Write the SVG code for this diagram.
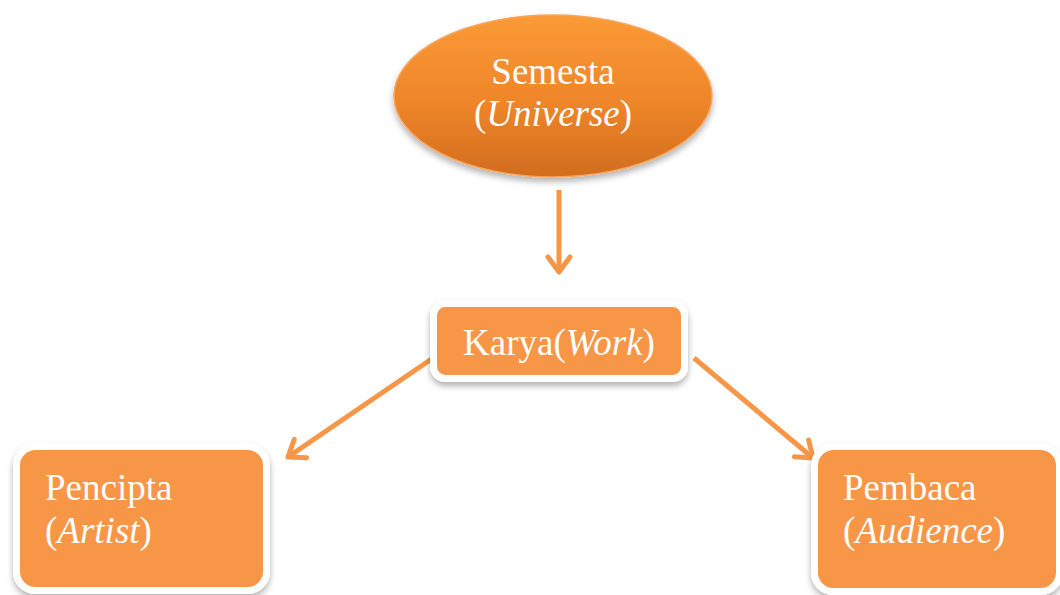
<svg xmlns="http://www.w3.org/2000/svg" width="1060" height="595" viewBox="0 0 1060 595">
<style>
.t{font-family:"Liberation Serif","Times New Roman",serif;font-size:37px;fill:#ffffff}
.i{font-style:italic}
.box{fill:#f79646;stroke:#ffffff;stroke-width:7}
.con{stroke:#f79646;stroke-width:5;fill:none}
</style>
<defs>
<linearGradient id="eg" x1="0" y1="0" x2="0" y2="1">
<stop offset="0" stop-color="#fb9a36"/>
<stop offset="0.55" stop-color="#ee8529"/>
<stop offset="1" stop-color="#d16d1e"/>
</linearGradient>
<filter id="sh" x="-20%" y="-20%" width="140%" height="150%">
<feDropShadow dx="0" dy="4" stdDeviation="3" flood-color="#000000" flood-opacity="0.3"/>
</filter>
<marker id="ah" markerUnits="userSpaceOnUse" markerWidth="40" markerHeight="40" viewBox="-20 -20 40 40" refX="0" refY="0" orient="auto">
<path d="M-15,-11 L0,0 L-15,11" stroke="#f79646" stroke-width="5" fill="none" stroke-linecap="round" stroke-linejoin="round"/>
</marker>
</defs>
<g id="connectors">
<line class="con" x1="559" y1="190" x2="559" y2="272" marker-end="url(#ah)"/>
<line class="con" x1="433" y1="358" x2="288" y2="457" marker-end="url(#ah)"/>
<line class="con" x1="694" y1="358" x2="813" y2="458" marker-end="url(#ah)"/>
</g>
<g id="semesta">
<ellipse cx="553" cy="96" rx="159" ry="81" fill="url(#eg)" stroke="#f7a55c" stroke-width="1.5" filter="url(#sh)"/>
<text class="t" x="553" y="84" text-anchor="middle">Semesta</text>
<text class="t" x="553" y="126" text-anchor="middle">(<tspan class="i">Universe</tspan>)</text>
</g>
<g id="karya">
<rect class="box" x="433.5" y="303.5" width="251" height="75" rx="12" filter="url(#sh)"/>
<text class="t" x="559" y="355" text-anchor="middle">Karya(<tspan class="i">Work</tspan>)</text>
</g>
<g id="pencipta">
<rect class="box" x="16.5" y="446.5" width="250" height="144" rx="19" filter="url(#sh)"/>
<text class="t" x="45" y="500">Pencipta</text>
<text class="t" x="45" y="543">(<tspan class="i">Artist</tspan>)</text>
</g>
<g id="pembaca">
<rect class="box" x="814.5" y="446.5" width="245" height="145" rx="19" filter="url(#sh)"/>
<text class="t" x="843" y="500">Pembaca</text>
<text class="t" x="843" y="543">(<tspan class="i">Audience</tspan>)</text>
</g>
</svg>
